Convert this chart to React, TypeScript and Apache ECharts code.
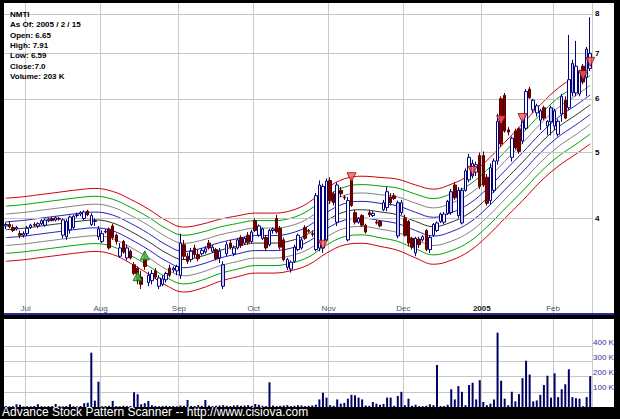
import React, { useEffect, useRef } from "react";
import * as echarts from "echarts";

// ---------- data ----------
const START_DAY = "2004-06-23";
const END_DAY = "2005-02-15";
const HOLIDAYS = ["2004-07-05", "2004-09-06", "2004-11-25", "2004-12-24", "2005-01-17"];
const MONTH_LABELS = ["2005", "Feb", "Mar", "Apr", "May", "Jun", "Jul", "Aug", "Sep", "Oct", "Nov", "Dec"];

const opens = [
  3.90, 3.92, 3.88, 3.86, 3.80, 3.78,
  3.80, 3.88, 3.92, 3.90, 3.93, 3.91, 3.97, 4.00, 3.98, 4.00, 3.78, 3.76, 3.85, 3.88, 4.04, 4.06, 4.00, 4.10, 3.92, 3.96, 3.76,
  3.70, 3.82, 3.86, 3.90, 3.78, 3.52, 3.70, 3.50, 3.58, 3.42, 3.38, 3.28, 3.50, 3.22, 3.24, 3.35, 3.18, 3.20, 3.25, 3.38, 3.36, 3.35,
  3.30, 3.66, 3.52, 3.48, 3.62, 3.54, 3.55, 3.57, 3.68, 3.58, 3.60, 3.50, 3.18, 3.55, 3.68, 3.55, 3.62, 3.75, 3.68, 3.78, 3.70,
  3.97, 3.78, 3.74, 3.75, 3.66, 3.84, 4.00, 3.87, 3.72, 3.39, 3.37, 3.46, 3.60, 3.62, 3.88, 3.84, 3.80, 3.60, 3.62, 3.62, 3.72,
  4.55, 4.35, 3.95, 4.40, 4.30, 3.72, 4.55, 4.08, 3.95, 4.04, 3.91, 4.08, 4.04, 3.95, 3.96, 4.12, 4.15, 4.30, 4.32, 3.77, 4.08,
  4.00, 3.96, 3.74, 3.56, 3.73, 3.72, 3.84, 3.60, 3.78, 3.84, 3.96, 3.95, 4.07, 4.08, 4.48, 4.04, 3.94, 4.40, 4.56, 4.62, 4.68, 4.95,
  4.95, 4.60, 4.25, 4.40, 4.86, 6.00, 6.07, 5.40, 4.92, 5.38, 5.42, 5.20, 5.43, 6.20, 5.78, 5.72, 5.58, 5.82, 5.47, 5.55,
  5.47, 5.32, 5.70, 5.97, 5.82, 6.13, 6.12, 6.10, 6.70, 6.45, 6.65,
];
const highs = [
  3.95, 3.96, 3.92, 3.90, 3.84, 3.83,
  3.90, 3.93, 3.95, 3.95, 3.99, 4.00, 4.01, 4.02, 4.03, 4.02, 4.00, 3.99, 4.04, 4.05, 4.08, 4.10, 4.11, 4.12, 4.07, 4.00, 3.90,
  3.84, 3.86, 3.88, 3.93, 3.80, 3.68, 3.72, 3.66, 3.60, 3.45, 3.40, 3.35, 3.58, 3.34, 3.36, 3.38, 3.30, 3.30, 3.34, 3.42, 3.40, 3.42,
  3.80, 3.72, 3.56, 3.62, 3.66, 3.60, 3.62, 3.64, 3.72, 3.66, 3.62, 3.62, 3.46, 3.70, 3.72, 3.65, 3.74, 3.78, 3.76, 3.82, 3.85,
  4.00, 3.92, 3.88, 3.78, 3.86, 3.88, 4.05, 3.90, 3.75, 3.50, 3.47, 3.66, 3.80, 3.75, 3.91, 3.86, 3.84, 4.36, 4.55, 4.50, 4.58,
  4.60, 4.38, 4.52, 4.45, 4.33, 4.30, 4.60, 4.12, 4.02, 4.06, 3.93, 4.12, 4.10, 3.98, 3.98, 4.26, 4.45, 4.36, 4.36, 4.25, 4.26,
  4.05, 3.98, 3.76, 3.76, 3.76, 3.78, 3.86, 3.78, 3.94, 3.96, 4.08, 4.09, 4.26, 4.42, 4.52, 4.45, 4.44, 4.74, 4.98, 4.88, 4.85, 5.00,
  5.02, 4.65, 4.82, 4.90, 5.70, 6.05, 6.12, 5.45, 5.28, 5.42, 5.45, 5.62, 6.20, 6.25, 6.00, 5.90, 5.80, 5.86, 5.58, 5.86,
  5.80, 5.60, 6.10, 6.05, 7.45, 6.85, 7.30, 6.62, 6.75, 7.15, 7.91,
];
const lows = [
  3.86, 3.87, 3.82, 3.84, 3.74, 3.75,
  3.77, 3.86, 3.89, 3.87, 3.91, 3.89, 3.95, 3.96, 3.96, 3.97, 3.74, 3.72, 3.80, 3.86, 4.01, 4.03, 3.98, 4.03, 3.90, 3.90, 3.72,
  3.68, 3.80, 3.60, 3.72, 3.66, 3.50, 3.55, 3.47, 3.48, 3.30, 3.20, 3.15, 3.36, 3.18, 3.20, 3.26, 3.15, 3.18, 3.22, 3.28, 3.33, 3.30,
  3.26, 3.48, 3.43, 3.45, 3.50, 3.46, 3.53, 3.55, 3.60, 3.56, 3.47, 3.44, 3.15, 3.52, 3.60, 3.52, 3.60, 3.62, 3.66, 3.66, 3.68,
  3.82, 3.76, 3.72, 3.58, 3.64, 3.80, 3.80, 3.60, 3.46, 3.36, 3.33, 3.44, 3.58, 3.60, 3.72, 3.81, 3.76, 3.58, 3.58, 3.56, 3.70,
  4.20, 4.18, 3.90, 4.30, 4.26, 3.70, 4.16, 3.92, 3.93, 3.89, 3.80, 4.02, 4.02, 3.92, 3.88, 4.10, 4.10, 4.18, 4.26, 3.74, 4.05,
  3.76, 3.64, 3.60, 3.52, 3.62, 3.70, 3.58, 3.56, 3.76, 3.82, 3.94, 3.92, 4.05, 4.05, 4.26, 4.00, 3.92, 4.38, 4.52, 4.58, 4.62, 4.42,
  4.45, 4.18, 4.20, 4.36, 4.80, 5.10, 5.35, 5.30, 4.85, 5.05, 4.98, 5.15, 5.40, 6.00, 5.72, 5.65, 5.40, 5.58, 5.30, 5.30,
  5.40, 5.28, 5.55, 5.60, 5.78, 6.05, 6.05, 6.05, 6.30, 6.05, 6.59,
];
const closes = [
  3.92, 3.89, 3.84, 3.88, 3.78, 3.80,
  3.87, 3.91, 3.91, 3.93, 3.97, 3.98, 3.99, 3.97, 4.01, 3.99, 3.98, 3.96, 4.02, 4.03, 4.05, 4.08, 4.09, 4.05, 4.04, 3.97, 3.86,
  3.80, 3.83, 3.62, 3.75, 3.70, 3.62, 3.57, 3.62, 3.50, 3.32, 3.24, 3.20, 3.40, 3.30, 3.32, 3.28, 3.27, 3.26, 3.32, 3.30, 3.38, 3.40,
  3.68, 3.52, 3.46, 3.58, 3.54, 3.49, 3.59, 3.61, 3.62, 3.63, 3.49, 3.58, 3.42, 3.66, 3.63, 3.62, 3.72, 3.65, 3.74, 3.69, 3.82,
  3.84, 3.90, 3.86, 3.62, 3.84, 3.86, 3.82, 3.63, 3.48, 3.48, 3.45, 3.63, 3.78, 3.72, 3.74, 3.83, 3.79, 4.32, 4.48, 4.46, 4.54,
  4.25, 4.22, 4.48, 4.35, 4.29, 4.25, 4.18, 3.95, 4.00, 3.91, 3.82, 4.05, 4.07, 3.94, 3.90, 4.22, 4.38, 4.22, 4.28, 4.22, 4.22,
  3.78, 3.68, 3.63, 3.74, 3.66, 3.76, 3.60, 3.75, 3.92, 3.94, 4.06, 4.06, 4.24, 4.38, 4.29, 4.40, 4.40, 4.70, 4.92, 4.82, 4.80, 4.46,
  4.48, 4.21, 4.75, 4.86, 5.56, 5.15, 5.38, 5.36, 5.25, 5.08, 5.02, 5.56, 6.15, 6.02, 5.97, 5.86, 5.76, 5.62, 5.56, 5.82,
  5.76, 5.56, 6.05, 5.62, 6.40, 6.76, 6.70, 6.59, 6.35, 7.10, 7.00,
];
// volume in thousands of shares
const volumesK = [
  6, 4, 5, 18, 15, 4,
  5, 4, 6, 18, 5, 4, 6, 5, 20, 5, 4, 6, 18, 5, 4, 6, 25, 28, 358, 42, 167,
  5, 6, 8, 40, 6, 5, 8, 6, 7, 97, 84, 18, 25, 40, 12, 6, 5, 7, 8, 6, 7, 5,
  10, 8, 46, 7, 6, 12, 8, 46, 10, 6, 8, 10, 12, 8, 6, 10, 12, 8, 10, 12, 8,
  20, 15, 8, 6, 163, 10, 6, 8, 10, 12, 6, 8, 12, 10, 6, 8, 10, 15, 50, 94, 62,
  12, 8, 50, 22, 27, 55, 80, 77, 62, 50, 10, 8, 33, 22, 15, 20, 62, 62, 8, 73, 100,
  12, 55, 8, 15, 6, 5, 8, 18, 12, 277, 6, 6, 15, 117, 50, 138, 100, 12, 145, 160, 50, 177,
  33, 12, 22, 50, 490, 173, 55, 12, 100, 37, 85, 190, 305, 214, 37, 43, 80, 145, 206, 62,
  222, 65, 117, 150, 249, 65, 58, 55, 5, 65, 203,
];
// smoothed centre line and envelope step (trading-day index -> price / % step)
const centerIdx = [0, 5, 10, 15, 20, 25, 30, 35, 40, 45, 50, 55, 60, 65, 70, 75, 80, 85, 90, 95, 100, 105, 110, 115, 120, 125, 130, 135, 140, 145, 150, 155, 160, 164];
const centerVal = [3.85, 3.87, 3.90, 3.93, 3.96, 3.98, 3.94, 3.83, 3.70, 3.56, 3.48, 3.52, 3.59, 3.64, 3.68, 3.68, 3.71, 3.80, 3.97, 4.09, 4.12, 4.09, 4.05, 3.96, 3.89, 3.95, 4.07, 4.28, 4.55, 4.84, 5.16, 5.45, 5.68, 5.88];
const bandStepPct = [2.67, 2.67, 2.67, 2.67, 2.67, 2.67, 2.67, 2.71, 2.75, 2.75, 2.75, 2.71, 2.63, 2.58, 2.54, 2.54, 2.54, 2.63, 2.75, 2.8, 2.84, 2.92, 3.01, 3.09, 3.18, 3.22, 3.22, 3.22, 3.22, 3.26, 3.26, 3.31, 3.31, 3.31];
const bandSteps = [4, 3, 2, 1, 0, -1, -2, -3, -4];
const bandColors = ["#cc0000", "#00a000", "#808080", "#2020c0", "#303030", "#2020c0", "#808080", "#00a000", "#cc0000"];

const buyIdx = [37, 39];
const buyPrice = [3.29, 3.53];
const sellIdx = [89, 97, 131, 139, 145, 162, 164];
const sellPrice = [3.66, 4.6, 4.7, 5.58, 5.62, 6.5, 6.8];
const lavenderDays = [61, 110, 125, 128, 153, 159, 163];

const priceTicks = [4, 5, 6, 7, 8];
const volumeTicksK = [100, 200, 300, 400];
const infoLines = ["NMTI", "As Of: 2005 / 2 / 15", "Open: 6.65", "High: 7.91", "Low: 6.59", "Close:7.0", "Volume: 203 K"];
const footerText = "Advance Stock Pattern Scanner -- http://www.cisiova.com";

// ---------- helpers ----------
function tradingDays(start: string, end: string): string[] {
  const out: string[] = [];
  const d = new Date(start + "T00:00:00Z");
  const e = new Date(end + "T00:00:00Z");
  const hol = new Set(HOLIDAYS);
  while (d <= e) {
    const wd = d.getUTCDay();
    const s = d.toISOString().slice(0, 10);
    if (wd !== 0 && wd !== 6 && !hol.has(s)) out.push(s);
    d.setUTCDate(d.getUTCDate() + 1);
  }
  return out;
}

const FONT = "Arial, 'Liberation Sans', Helvetica, sans-serif";

export default function App() {
  const ref = useRef<HTMLDivElement>(null);

  useEffect(() => {
    document.body.style.margin = "0";
    if (!ref.current) return;
    const chart = echarts.init(ref.current, undefined, { renderer: "svg" });

    const days = tradingDays(START_DAY, END_DAY);
    const monthStart = days.map((s, i) => i > 0 && s.slice(5, 7) !== days[i - 1].slice(5, 7));
    const isMonthStart = (i: number) => !!monthStart[i];

    const candleData = days.map((_, i) => {
      const v = [opens[i], closes[i], lows[i], highs[i]];
      return lavenderDays.includes(i) ? { value: v, itemStyle: { color: "#c8c8ee" } } : v;
    });

    const bandSeries = bandSteps.map((k, j) => ({
      type: "line",
      xAxisIndex: 0,
      yAxisIndex: 0,
      data: centerIdx.map((ix, n) => [ix, centerVal[n] * Math.exp((k * bandStepPct[n]) / 100)]),
      smooth: 0.4,
      showSymbol: false,
      symbol: "none",
      silent: true,
      z: 2,
      lineStyle: { color: bandColors[j], width: 1 },
      ...(k === 0
        ? {
            markLine: {
              silent: true,
              symbol: ["none", "none"],
              precision: 0,
              lineStyle: { color: "#c4c4c4", width: 1, type: "solid" },
              label: {
                position: "end",
                distance: 3,
                formatter: (p: any) => String(Number(p.value)),
                color: "#000",
                fontSize: 8,
                fontWeight: "bold",
                fontFamily: FONT,
              },
              data: priceTicks.map((v) => ({ yAxis: v })),
            },
          }
        : {}),
    }));

    const xBase = {
      type: "category",
      data: days,
      boundaryGap: true,
      axisLine: { show: false },
      axisTick: { show: false },
      splitLine: { show: true, interval: isMonthStart, lineStyle: { color: "#c8c8c8", width: 1 } },
    };

    chart.setOption({
      animation: false,
      backgroundColor: "transparent",
      grid: [
        { left: 4, right: 28, top: 3, height: 310, containLabel: false, outerBoundsMode: "none" },
        { left: 4, right: 28, top: 319, height: 88, containLabel: false, outerBoundsMode: "none" },
      ],
      xAxis: [
        {
          ...xBase,
          gridIndex: 0,
          axisLabel: {
            inside: true,
            margin: 1,
            interval: isMonthStart,
            color: "#555",
            fontSize: 8,
            fontFamily: FONT,
            padding: [0, 3, 0, 0],
            formatter: (v: string) => {
              const m = +v.slice(5, 7);
              return m === 1 ? `{y|${v.slice(0, 4)}}` : MONTH_LABELS[m - 1];
            },
            rich: { y: { fontWeight: "bold", color: "#222", fontSize: 8, fontFamily: FONT } },
          },
        },
        { ...xBase, gridIndex: 1, axisLabel: { show: false } },
      ],
      yAxis: [
        {
          type: "log",
          logBase: 10,
          gridIndex: 0,
          min: 2.904,
          max: 8.3,
          axisLine: { show: false },
          axisTick: { show: false },
          axisLabel: { show: false },
          splitLine: { show: false },
        },
        {
          type: "value",
          gridIndex: 1,
          position: "right",
          min: 0,
          max: 580,
          interval: 100,
          axisLine: { show: false },
          axisTick: { show: false },
          axisLabel: {
            margin: 1,
            color: "#333399",
            fontSize: 8,
            fontFamily: FONT,
            verticalAlign: "bottom",
            formatter: (v: number) => (volumeTicksK.includes(v) ? `${v} K` : ""),
          },
          splitLine: {
            show: true,
            lineStyle: {
              color: ["rgba(0,0,0,0)", "#c8c8c8", "#c8c8c8", "#c8c8c8", "#c8c8c8", "rgba(0,0,0,0)"],
              width: 1,
            },
          },
        },
      ],
      series: [
        ...bandSeries,
        {
          type: "candlestick",
          xAxisIndex: 0,
          yAxisIndex: 0,
          data: candleData,
          barWidth: 3,
          z: 5,
          itemStyle: {
            color: "#ffffff",
            color0: "#7a0000",
            borderColor: "#000080",
            borderColor0: "#5a0000",
            borderWidth: 1,
          },
        },
        {
          type: "scatter",
          xAxisIndex: 0,
          yAxisIndex: 0,
          z: 6,
          symbol: "triangle",
          symbolSize: [9, 9],
          itemStyle: { color: "#4cc44c", borderColor: "#006600", borderWidth: 1 },
          data: buyIdx.map((ix, n) => [ix, buyPrice[n]]),
        },
        {
          type: "scatter",
          xAxisIndex: 0,
          yAxisIndex: 0,
          z: 6,
          symbol: "triangle",
          symbolRotate: 180,
          symbolSize: [9, 9],
          itemStyle: { color: "#f06060", borderColor: "#990000", borderWidth: 1 },
          data: sellIdx.map((ix, n) => [ix, sellPrice[n]]),
        },
        {
          type: "bar",
          xAxisIndex: 1,
          yAxisIndex: 1,
          data: volumesK,
          barWidth: 2,
          itemStyle: { color: "#000066" },
        },
      ],
      graphic: [
        {
          type: "text",
          left: 10,
          top: 9,
          z: 20,
          style: { text: infoLines.join("\n"), font: `bold 8px ${FONT}`, lineHeight: 10.4, fill: "#000" },
        },
        {
          type: "text",
          left: 2,
          top: 406,
          z: 20,
          style: { text: footerText, font: `12px ${FONT}`, fill: "#fff" },
        },
      ],
    });

    return () => chart.dispose();
  }, []);

  return (
    <div style={{ position: "relative", width: 620, height: 419, background: "#000", overflow: "hidden" }}>
      <div style={{ position: "absolute", left: 4, top: 3, width: 610, height: 310, background: "#fff" }} />
      <div style={{ position: "absolute", left: 4, top: 313, width: 610, height: 2, background: "#2a2aa0" }} />
      <div style={{ position: "absolute", left: 4, top: 319, width: 610, height: 88, background: "#fff" }} />
      <div ref={ref} style={{ position: "absolute", left: 0, top: 0, width: 620, height: 419 }} />
    </div>
  );
}
